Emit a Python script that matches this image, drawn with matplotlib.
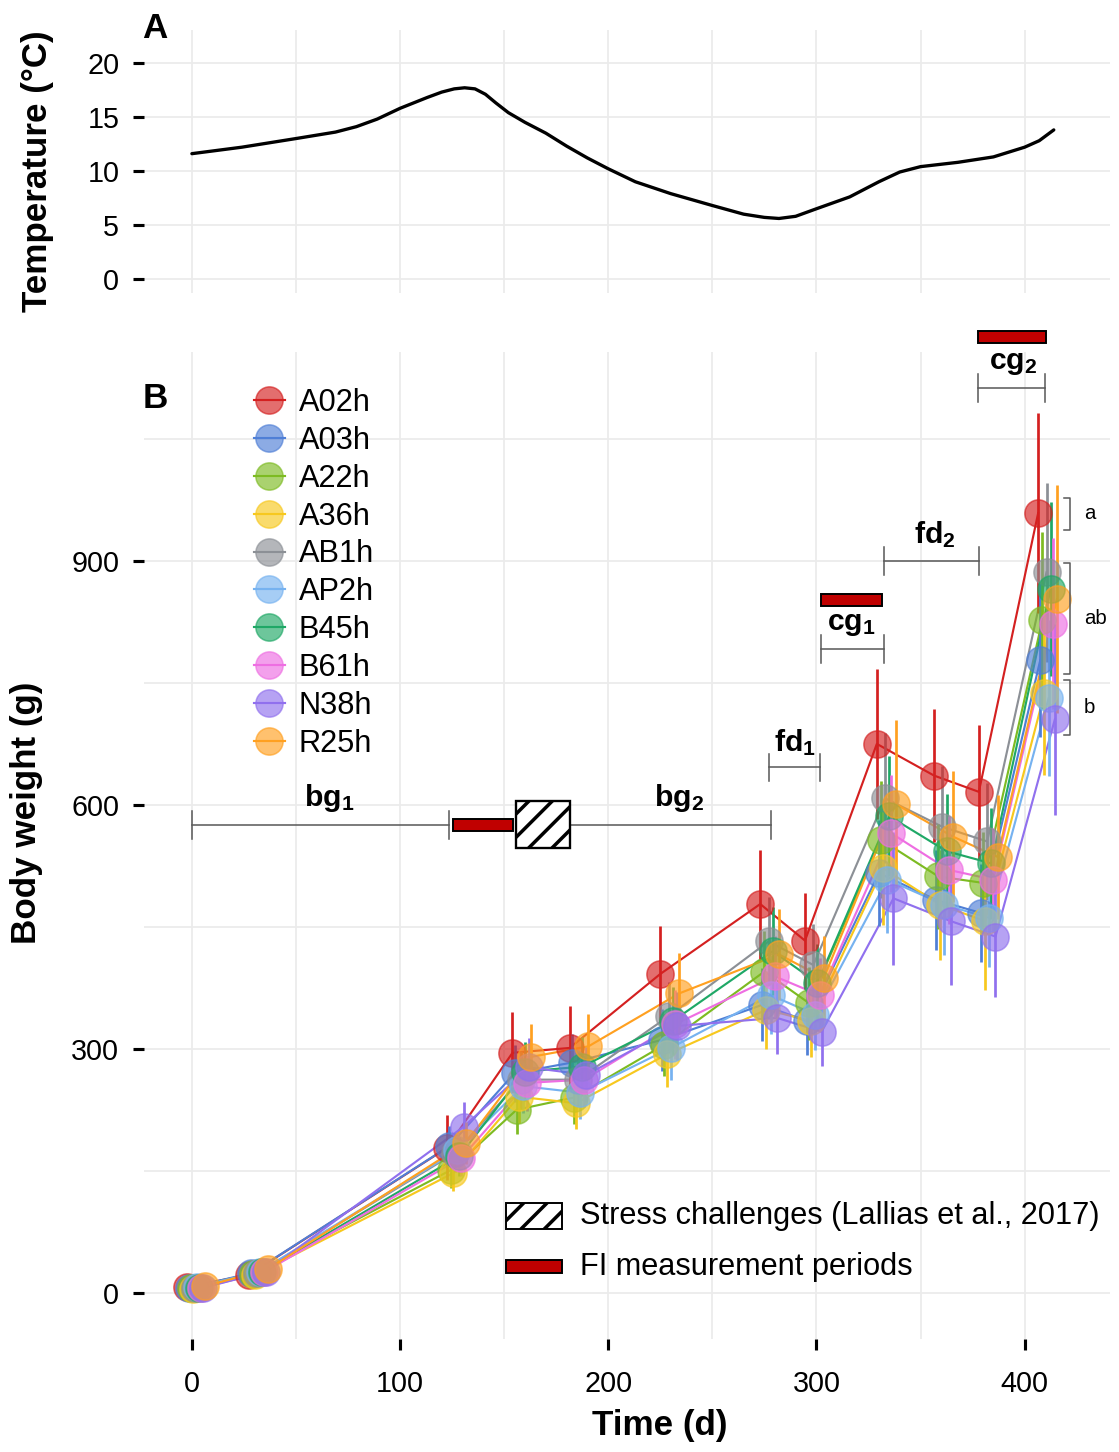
import matplotlib
matplotlib.use('Agg')
import matplotlib.pyplot as plt
from matplotlib.patches import Rectangle
from matplotlib.lines import Line2D
import numpy as np

plt.rcParams['font.family'] = ['Liberation Sans', 'DejaVu Sans']
plt.rcParams['mathtext.fontset'] = 'custom'
plt.rcParams['mathtext.rm'] = 'Liberation Sans'
plt.rcParams['mathtext.bf'] = 'Liberation Sans:bold'
plt.rcParams['mathtext.it'] = 'Liberation Sans:italic'
plt.rcParams['hatch.linewidth'] = 1.8

# ---------------- data ----------------
temp_days = [0, 24, 50, 69, 79, 89, 100, 113, 120, 126, 131, 136, 141, 146, 152, 160, 170,
             180, 190, 200, 213, 230, 250, 265, 275, 282, 290, 300, 316, 330, 340, 350,
             368, 385, 400, 407, 414]
temp_values = [11.6, 12.2, 13.0, 13.6, 14.1, 14.8, 15.8, 16.8, 17.3, 17.6, 17.7, 17.6, 17.1,
               16.3, 15.4, 14.5, 13.5, 12.3, 11.2, 10.2, 9.0, 7.9, 6.8, 6.0, 5.7, 5.6, 5.8,
               6.5, 7.6, 9.0, 9.9, 10.4, 10.8, 11.3, 12.2, 12.8, 13.8]

times = [2, 32, 127, 158.5, 186, 229.5, 277.5, 299, 333.5, 361, 382.5, 411]

groups = ['A02h', 'A03h', 'A22h', 'A36h', 'AB1h', 'AP2h', 'B45h', 'B61h', 'N38h', 'R25h']

A02h = [7, 22, 178, 295, 301, 392, 478, 433, 675, 636, 616, 959]
A03h = [6, 24, 180, 270, 283, 311, 354, 334, 516, 483, 467, 778]
A22h = [6, 23, 151, 225, 240, 305, 395, 356, 557, 512, 504, 827]
A36h = [5, 22, 147, 241, 233, 293, 348, 334, 522, 477, 457, 737]
AB1h = [6, 24, 172, 262, 262, 340, 432, 403, 608, 573, 555, 886]
AP2h = [7, 26, 175, 254, 246, 301, 366, 342, 508, 477, 461, 731]
B45h = [6, 25, 168, 272, 278, 334, 420, 381, 586, 543, 528, 866]
B61h = [6, 25, 166, 258, 262, 330, 389, 366, 565, 520, 508, 823]
N38h = [6, 26, 204, 277, 268, 328, 338, 321, 485, 457, 438, 705]
R25h = [8, 29, 184, 290, 303, 368, 416, 387, 601, 561, 536, 853]

sd_A02h = [1, 4, 40, 50, 51, 59, 67, 59, 92, 82, 82, 123]
sd_A03h = [1, 4, 25, 35, 35, 38, 45, 42, 65, 62, 60, 95]
sd_A22h = [1, 4, 22, 30, 32, 38, 50, 45, 72, 65, 62, 109]
sd_A36h = [1, 4, 22, 32, 32, 40, 48, 44, 70, 68, 85, 100]
sd_AB1h = [1, 4, 24, 35, 34, 42, 55, 50, 80, 75, 72, 110]
sd_AP2h = [1, 4, 23, 33, 32, 40, 48, 44, 66, 62, 60, 96]
sd_B45h = [1, 4, 24, 36, 36, 42, 54, 48, 74, 70, 68, 107]
sd_B61h = [1, 4, 23, 34, 34, 42, 50, 46, 72, 66, 64, 105]
sd_N38h = [1, 4, 30, 36, 34, 42, 44, 42, 82, 78, 74, 117]
sd_R25h = [1, 4, 26, 40, 40, 50, 56, 52, 103, 81, 76, 140]

means = [A02h, A03h, A22h, A36h, AB1h, AP2h, B45h, B61h, N38h, R25h]
sds = [sd_A02h, sd_A03h, sd_A22h, sd_A36h, sd_AB1h, sd_AP2h, sd_B45h, sd_B61h, sd_N38h, sd_R25h]

colors = ['#D42020', '#4F7FD6', '#7DBB22', '#F7C81E', '#8C9096',
          '#76B2F0', '#1FA866', '#EE6EE2', '#9070EE', '#FFA020']

# periods (start, end, y, label, label_x, label_y)
periods = [
    (0, 123.5, 575, r'$\mathbf{bg_1}$', 66, 608),
    (181.6, 278, 575, r'$\mathbf{bg_2}$', 234, 608),
    (277.3, 301.8, 646, r'$\mathbf{fd_1}$', 289.5, 676),
    (302.4, 332.3, 792, r'$\mathbf{cg_1}$', 316.8, 822),
    (332.3, 378.3, 900, r'$\mathbf{fd_2}$', 357, 932),
    (377.8, 409.9, 1113, r'$\mathbf{cg_2}$', 394.7, 1144),
]
fi_periods = [(125.2, 154.2, 575), (302.4, 331.3, 852), (377.4, 410.3, 1175)]
stress_period = (155.8, 181.6, 547.5, 605)

sig_labels = ['a', 'ab', 'b']
sig_top = [978, 898, 754]
sig_bot = [938, 761, 686]

# ---------------- figure ----------------
DPI = 140
W, H = 1119, 1452
fig = plt.figure(figsize=(W / DPI, H / DPI), dpi=DPI)


def fx(px):
    return px / W


def fy(py):
    return 1 - py / H


axA = fig.add_axes([fx(144), fy(293), (1110 - 144) / W, (293 - 30) / H])
axB = fig.add_axes([fx(144), fy(1339), (1110 - 144) / W, (1339 - 352) / H])

grid_c = '#EBEBEB'
for ax in (axA, axB):
    for s in ax.spines.values():
        s.set_visible(False)
    ax.set_xlim(-23, 441)
    ax.set_xticks([0, 100, 200, 300, 400])
    ax.set_xticks([50, 150, 250, 350], minor=True)
    ax.grid(True, which='both', color=grid_c, lw=0.9)
    ax.set_axisbelow(True)
    ax.tick_params(axis='both', which='major', length=5.7, width=1.6, color='black',
                   labelsize=14.8, pad=7)
    ax.tick_params(axis='both', which='minor', length=0)

# Panel A
axA.set_ylim(-1.3, 23.05)
axA.set_yticks([0, 5, 10, 15, 20])
axA.tick_params(axis='x', which='both', length=0, labelbottom=False)
axA.plot(temp_days, temp_values, color='black', lw=1.7, solid_capstyle='round',
         solid_joinstyle='round')

# Panel B
axB.set_ylim(-57, 1157)
axB.set_yticks([0, 300, 600, 900])
axB.set_yticks([150, 450, 750, 1050], minor=True)
axB.tick_params(axis='x', which='major', pad=10.5)

xs = []
for i in range(len(groups)):
    xs.append(np.array(times) + (i - 4.5) * 1.0)

for i in range(len(groups)):
    axB.plot(xs[i], means[i], color=colors[i], lw=1.1, zorder=2)
for i in range(len(groups)):
    m = np.array(means[i])
    s = np.array(sds[i])
    axB.vlines(xs[i], m - s, m + s, color=colors[i], lw=1.4, zorder=2.5)
for i in range(len(groups)):
    axB.plot(xs[i], means[i], 'o', ms=14, color=colors[i], alpha=0.65,
             mec=colors[i], mew=0.8, zorder=3)

# period brackets
bc = '#5A5A5A'
for (x0, x1, y, lab, lx, ly) in periods:
    axB.plot([x0, x1], [y, y], color=bc, lw=0.8, clip_on=False, zorder=4)
    for xx in (x0, x1):
        axB.plot([xx, xx], [y - 17, y + 17], color=bc, lw=0.8, clip_on=False, zorder=4)
    axB.text(lx, ly, lab, fontsize=15.5, ha='center', va='center', zorder=5)

for (x0, x1, y) in fi_periods:
    axB.add_patch(Rectangle((x0, y - 7.5), x1 - x0, 15, facecolor='#C00000',
                            edgecolor='black', lw=1.0, clip_on=False, zorder=5))

sx0, sx1, sy0, sy1 = stress_period
axB.add_patch(Rectangle((sx0, sy0), sx1 - sx0, sy1 - sy0, facecolor='white',
                        edgecolor='black', hatch='//', lw=1.2, clip_on=False, zorder=5))

# significance brackets
for lab, yt, yb in zip(sig_labels, sig_top, sig_bot):
    axB.plot([419, 422, 422, 419], [yt, yt, yb, yb], color=bc, lw=0.8,
             clip_on=False, zorder=4)
    axB.text(428.5, (yt + yb) / 2, lab, fontsize=10.5, ha='left', va='center')

# group legend
handles = []
for c in colors:
    handles.append((Line2D([], [], color=c, lw=1.1),
                    Line2D([], [], color=c, marker='o', ms=14, alpha=0.65, lw=0,
                           mec=c, mew=0.8)))
axB.legend(handles, groups, loc='upper left', bbox_to_anchor=(fx(254), fy(388)),
           bbox_transform=fig.transFigure, frameon=False, fontsize=15.8,
           handlelength=1.0, handletextpad=0.45, labelspacing=0.255, borderpad=0,
           borderaxespad=0)

# bottom legend (stress / FI)
axB.add_patch(Rectangle(((506 - 144) / 966, (1339 - 1229) / 987), 56 / 966, 26 / 987,
                        transform=axB.transAxes, facecolor='white', edgecolor='black',
                        hatch='//', lw=1.0, zorder=5))
axB.add_patch(Rectangle(((506 - 144) / 966, (1339 - 1273) / 987), 56 / 966, 13 / 987,
                        transform=axB.transAxes, facecolor='#C00000', edgecolor='black',
                        lw=1.0, zorder=5))
axB.text((580 - 144) / 966, (1339 - 1216) / 987, 'Stress challenges (Lallias et al., 2017)',
         transform=axB.transAxes, fontsize=15.8, ha='left', va='center')
axB.text((580 - 144) / 966, (1339 - 1267) / 987, 'FI measurement periods',
         transform=axB.transAxes, fontsize=15.8, ha='left', va='center')

# labels
fig.text(fx(38), fy(171), 'Temperature (°C)', rotation=90, fontsize=18,
         fontweight='bold', ha='center', va='center')
fig.text(fx(27), fy(813), 'Body weight (g)', rotation=90, fontsize=18,
         fontweight='bold', ha='center', va='center')
fig.text(fx(660), fy(1426), 'Time (d)', fontsize=18, fontweight='bold',
         ha='center', va='center')
fig.text(fx(155), fy(28), 'A', fontsize=18, fontweight='bold', ha='center', va='center')
fig.text(fx(155), fy(398), 'B', fontsize=18, fontweight='bold', ha='center', va='center')

fig.savefig('out.png', dpi=DPI)
